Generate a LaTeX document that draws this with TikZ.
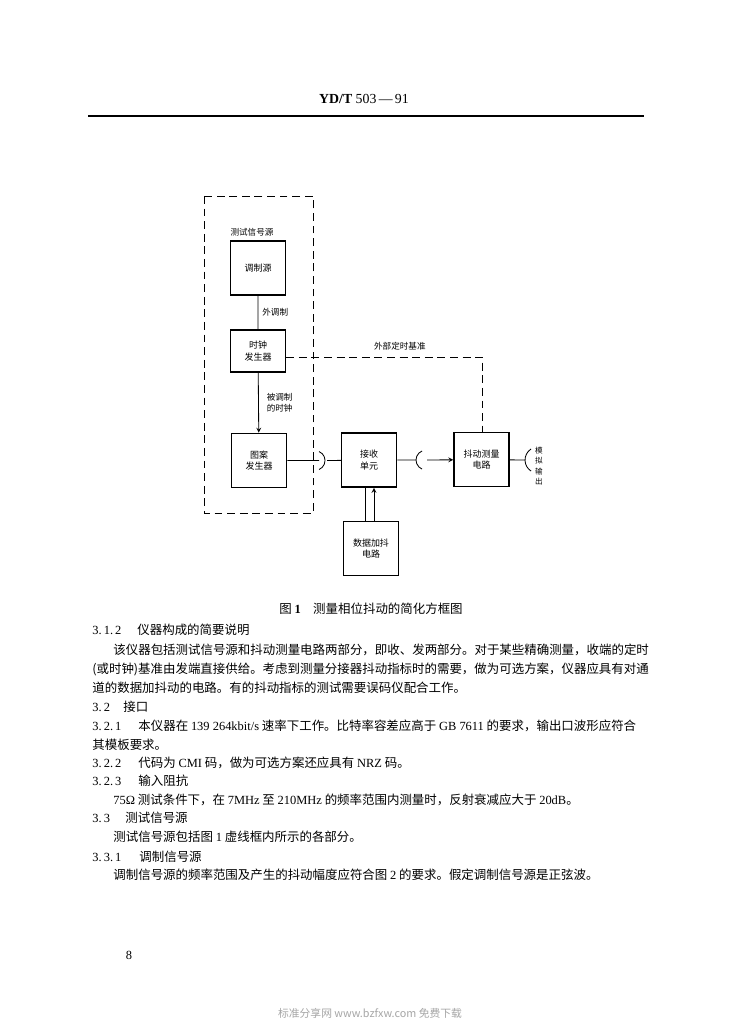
\documentclass[tikz,border=0pt]{standalone}
\usepackage{fontspec}
\setmainfont{Liberation Serif}
\newfontfamily\cjk{Noto Sans CJK SC}
\tikzset{
  blk/.style={draw, line width=1pt, minimum width=14mm, minimum height=13.8mm, align=center, font=\fontsize{6.5}{8.5}\selectfont\cjk},
  lbl/.style={font=\fontsize{6.2}{7.6}\selectfont\cjk, align=left},
  txt/.style={anchor=west, font=\fontsize{9}{11}\selectfont\cjk},
  num/.style={anchor=west, font=\fontsize{9}{11}\selectfont\rmfamily},
  dsh/.style={line width=0.6pt, dash pattern=on 2mm off 1.2mm},
}

\begin{document}
\begin{tikzpicture}[scale=0.254, >=stealth, line width=0.6pt]
  \tikzstyle{every node}+=[inner sep=0pt]
  \fill [white] (0,0) rectangle (74,-102.4);
  % header
  \node (hd) at (36.4,-9.9) {\fontsize{10}{10}\selectfont\textbf{YD/T}\ 503\,—\,91};
  \coordinate (rl) at (8.8,-11.6);
  \coordinate (rr) at (64.4,-11.6);
  \draw [line width=0.8pt] (rl) -- (rr);
  % test signal source (dashed frame)
  \draw [dsh] (20.4,-19.6) rectangle (31.3,-51.3);
  \node [lbl] (src) at (25.2,-23.2) {测试信号源};
  \node [blk] (mod) at (25.8,-26.8) {调制源};
  \node [blk, minimum height=10.7mm] (clk) at (25.8,-35.1) {时钟\\发生器};
  \node [blk] (pat) at (25.9,-46.05) {图案\\发生器};
  \draw (mod) -- node [lbl, right=1mm] (ext) {外调制} (clk);
  \draw [->] (clk) -- node [lbl, right=2mm] (mclk) {被调制\\的时钟} (pat);
  % receiver side
  \node [blk] (rcv) at (36.9,-46) {接收\\单元};
  \node [blk] (jit) at (48.15,-45.95) {抖动测量\\电路};
  \node [blk] (dat) at (37.1,-54.85) {数据加抖\\电路};
  % couplers
  \coordinate (k1) at (31.9,-46.05);
  \coordinate (k1o) at (32.7,-46.05);
  \draw (pat) -- (k1);
  \draw (k1) ++(0,0.9) arc (67.4:-67.4:0.975);
  \draw (k1o) -- (rcv);
  \coordinate (k2) at (41.6,-46.0);
  \coordinate (k2o) at (42.7,-46.0);
  \draw (rcv) -- (k2);
  \draw (k2) ++(0.6,0.9) arc (112.6:247.4:0.975);
  \draw [->] (k2o) -- (jit);
  \coordinate (k3) at (52.5,-46.0);
  \draw (jit) -- (k3);
  \draw (k3) ++(0.6,1.1) arc (122.8:237.2:1.31);
  \node [font=\fontsize{5.5}{7.4}\selectfont\cjk, align=center] (out) at (53.9,-46.6) {模\\拟\\输\\出};
  \draw ([xshift=-4mm]rcv.south) -- ([xshift=-4mm]rcv.south |- dat.north);
  \draw [<-] ([xshift=5mm]rcv.south) -- ([xshift=5mm]rcv.south |- dat.north);
  \draw [dsh] (clk.-12) -| node [lbl, pos=0.29, above=1.5mm] (xref) {外部定时基准} ([xshift=0.6mm]jit.north);
  % caption and text
  \node [txt, anchor=center] (cap) at (37.1,-60.9) {图\ {\rmfamily\bfseries 1}\quad 测量相位抖动的简化方框图};
  \node [num] (n1) at (9.2,-63.0) {3.\,1.\,2};
  \node [txt] (t1) at (13.7,-63.0) {仪器构成的简要说明};
  \node [txt] (p1) at (11.3,-65.0) {该仪器包括测试信号源和抖动测量电路两部分，即收、发两部分。对于某些精确测量，收端的定时};
  \node [txt] (p2) at (9.2,-66.9) {(或时钟)基准由发端直接供给。考虑到测量分接器抖动指标时的需要，做为可选方案，仪器应具有对通};
  \node [txt] (p3) at (9.2,-68.8) {道的数据加抖动的电路。有的抖动指标的测试需要误码仪配合工作。};
  \node [num] (n2) at (9.2,-70.7) {3.\,2};
  \node [txt] (t2) at (12.3,-70.7) {接口};
  \node [num] (n3) at (9.2,-72.6) {3.\,2.\,1};
  \node [txt] (t3) at (13.8,-72.6) {本仪器在 {\rmfamily 139 264kbit/s} 速率下工作。比特率容差应高于 {\rmfamily GB 7611} 的要求，输出口波形应符合};
  \node [txt] (p4) at (9.2,-74.5) {其模板要求。};
  \node [num] (n4) at (9.2,-76.3) {3.\,2.\,2};
  \node [txt] (t4) at (13.8,-76.3) {代码为 {\rmfamily CMI} 码，做为可选方案还应具有 {\rmfamily NRZ} 码。};
  \node [num] (n5) at (9.2,-78.1) {3.\,2.\,3};
  \node [txt] (t5) at (13.8,-78.1) {输入阻抗};
  \node [txt] (p5) at (11.3,-80.0) {{\rmfamily 75Ω} 测试条件下，在 {\rmfamily 7MHz} 至 {\rmfamily 210MHz} 的频率范围内测量时，反射衰减应大于 {\rmfamily 20dB}。};
  \node [num] (n6) at (9.2,-81.8) {3.\,3};
  \node [txt] (t6) at (12.5,-81.8) {测试信号源};
  \node [txt] (p6) at (11.3,-83.7) {测试信号源包括图 {\rmfamily 1} 虚线框内所示的各部分。};
  \node [num] (n7) at (9.2,-85.7) {3.\,3.\,1};
  \node [txt] (t7) at (13.9,-85.7) {调制信号源};
  \node [txt] (p7) at (11.3,-87.5) {调制信号源的频率范围及产生的抖动幅度应符合图 {\rmfamily 2} 的要求。假定调制信号源是正弦波。};
  % footer
  \node [font=\fontsize{9}{9}\selectfont\rmfamily] (pg) at (12.9,-95.5) {8};
  \node [font=\fontsize{7.8}{7.8}\selectfont\cjk, text=black!35] (wm) at (37,-101.3) {标准分享网 www.bzfxw.com 免费下载};
\end{tikzpicture}
\end{document}
